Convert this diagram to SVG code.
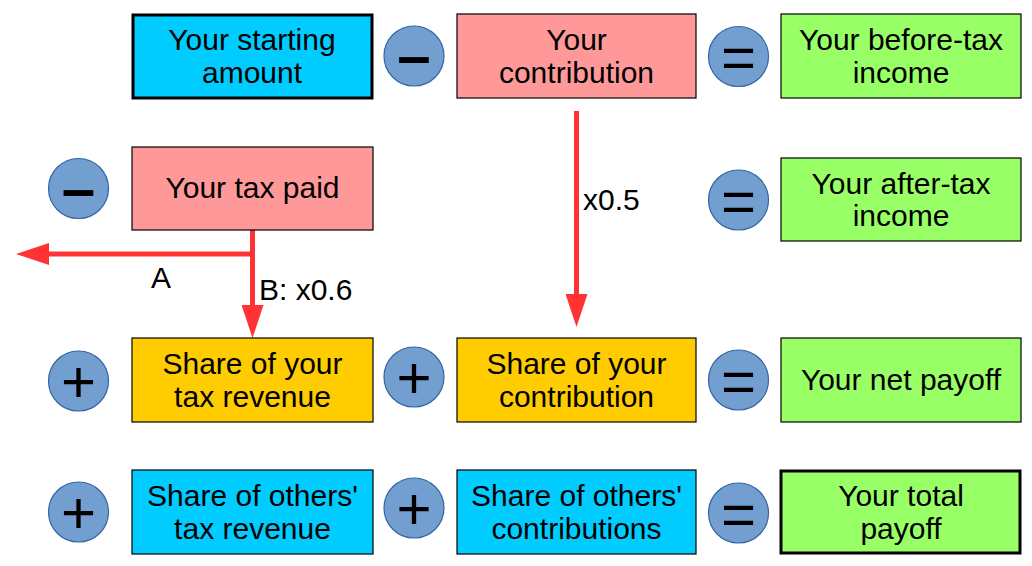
<svg xmlns="http://www.w3.org/2000/svg" width="1032" height="566" viewBox="0 0 1032 566">
<defs>
<style>
.box{stroke:#000;stroke-width:1.2}
.thick{stroke-width:3}
.cyan{fill:#00ccff}
.pink{fill:#ff9999}
.green{fill:#99ff66}
.orange{fill:#ffcc00}
.op{fill:#729fcf;stroke:#3465a4;stroke-width:1.2}
.t{font-family:"Liberation Sans",Arial,sans-serif;font-size:30px;fill:#000;text-anchor:middle}
.lbl{font-family:"Liberation Sans",Arial,sans-serif;font-size:30px;fill:#000}
.sym{font-family:"Liberation Sans",Arial,sans-serif;font-size:60px;fill:#000;text-anchor:middle}
.minus{font-weight:bold}
.arr{stroke:#ff3333;stroke-width:5;fill:none;marker-end:url(#ah)}
</style>
<marker id="ah" markerUnits="userSpaceOnUse" markerWidth="33" markerHeight="22" refX="0" refY="11" orient="auto" viewBox="0 0 33 22">
<path d="M0,0 L33,11 L0,22 z" fill="#ff3333"/>
</marker>
</defs>
<rect width="1032" height="566" fill="#fff"/>

<g id="connectors">
<line class="arr" x1="252.5" y1="230" x2="252.5" y2="305"/>
<line class="arr" x1="255" y1="254" x2="49" y2="254"/>
<line class="arr" x1="576.5" y1="111" x2="576.5" y2="294"/>
<text class="lbl" x="151" y="288">A</text>
<text class="lbl" x="259" y="300">B: x0.6</text>
<text class="lbl" x="583" y="210">x0.5</text>
</g>

<g id="starting">
<rect class="box thick cyan" x="133" y="15" width="239" height="83"/>
<text class="t" x="252" y="50">Your starting</text>
<text class="t" x="252" y="83">amount</text>
</g>
<g id="op-minus-1">
<circle class="op" cx="414" cy="56" r="30"/>
<text class="sym minus" x="414" y="76">–</text>
</g>
<g id="contribution">
<rect class="box pink" x="457" y="14" width="239" height="84"/>
<text class="t" x="576.5" y="50">Your</text>
<text class="t" x="576.5" y="83">contribution</text>
</g>
<g id="op-eq-1">
<circle class="op" cx="738.5" cy="56.5" r="30"/>
<text class="sym" x="738.5" y="78">=</text>
</g>
<g id="before-tax">
<rect class="box green" x="781" y="14" width="240" height="84"/>
<text class="t" x="901" y="50">Your before-tax</text>
<text class="t" x="901" y="83">income</text>
</g>

<g id="op-minus-2">
<circle class="op" cx="78.5" cy="188.5" r="30"/>
<text class="sym minus" x="78.5" y="209">–</text>
</g>
<g id="tax-paid">
<rect class="box pink" x="132" y="147" width="241" height="83"/>
<text class="t" x="252.5" y="198">Your tax paid</text>
</g>
<g id="op-eq-2">
<circle class="op" cx="738.5" cy="200" r="30"/>
<text class="sym" x="738.5" y="221.5">=</text>
</g>
<g id="after-tax">
<rect class="box green" x="781" y="158" width="240" height="83"/>
<text class="t" x="901" y="194">Your after-tax</text>
<text class="t" x="901" y="226">income</text>
</g>

<g id="op-plus-1">
<circle class="op" cx="78.5" cy="381" r="30"/>
<text class="sym" x="78.5" y="402">+</text>
</g>
<g id="share-tax">
<rect class="box orange" x="132" y="338" width="241" height="84"/>
<text class="t" x="252.5" y="374">Share of your</text>
<text class="t" x="252.5" y="407">tax revenue</text>
</g>
<g id="op-plus-2">
<circle class="op" cx="414" cy="377" r="30"/>
<text class="sym" x="414" y="398">+</text>
</g>
<g id="share-contribution">
<rect class="box orange" x="457" y="338" width="239" height="84"/>
<text class="t" x="576.5" y="374">Share of your</text>
<text class="t" x="576.5" y="407">contribution</text>
</g>
<g id="op-eq-3">
<circle class="op" cx="738.5" cy="380" r="30"/>
<text class="sym" x="738.5" y="401.5">=</text>
</g>
<g id="net-payoff">
<rect class="box green" x="781" y="338" width="240" height="84"/>
<text class="t" x="901" y="390">Your net payoff</text>
</g>

<g id="op-plus-3">
<circle class="op" cx="78.5" cy="512" r="30"/>
<text class="sym" x="78.5" y="533">+</text>
</g>
<g id="others-tax">
<rect class="box cyan" x="132" y="470" width="241" height="84"/>
<text class="t" x="252.5" y="506">Share of others'</text>
<text class="t" x="252.5" y="539">tax revenue</text>
</g>
<g id="op-plus-4">
<circle class="op" cx="414" cy="508" r="30"/>
<text class="sym" x="414" y="529">+</text>
</g>
<g id="others-contributions">
<rect class="box cyan" x="457" y="470" width="239" height="84"/>
<text class="t" x="576.5" y="506">Share of others'</text>
<text class="t" x="576.5" y="539">contributions</text>
</g>
<g id="op-eq-4">
<circle class="op" cx="738.5" cy="513" r="30"/>
<text class="sym" x="738.5" y="534.5">=</text>
</g>
<g id="total-payoff">
<rect class="box thick green" x="781" y="471" width="239" height="82"/>
<text class="t" x="901" y="506">Your total</text>
<text class="t" x="901" y="539">payoff</text>
</g>
</svg>
